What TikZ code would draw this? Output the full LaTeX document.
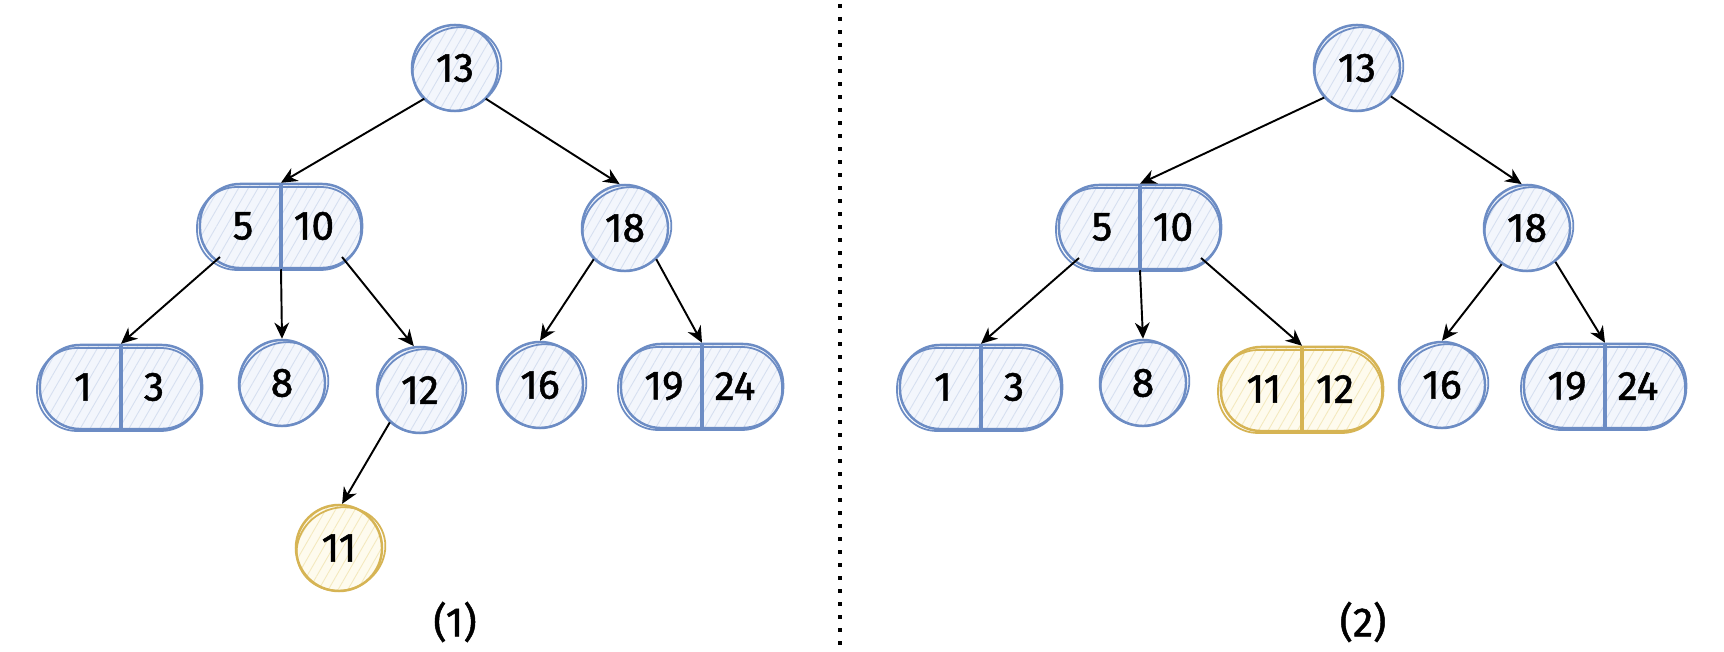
\documentclass[tikz,border=0pt]{standalone}
\usepackage{fontspec}
\setmainfont{Fira Sans}
\newfontfamily\numfont{Fira Sans}[FakeBold=1.2]
\usetikzlibrary{arrows.meta,calc,patterns.meta}
\definecolor{blline}{RGB}{108,140,196}
\definecolor{blfill}{RGB}{243,246,252}
\definecolor{blhatch}{RGB}{214,223,240}
\definecolor{ylline}{RGB}{214,180,84}
\definecolor{ylfill}{RGB}{254,251,238}
\definecolor{ylhatch}{RGB}{244,233,190}
\tikzset{
  hatchfill/.style={preaction={fill=#1fill}, pattern={Lines[angle=60,distance=2.4pt,line width=0.25pt]}, pattern color=#1hatch},
  circ/.style={circle, minimum size=0.86cm, inner sep=0pt, draw=#1line, line width=0.7pt, hatchfill=#1},
  twobox/.style={rectangle, rounded corners=0.40cm, minimum width=1.62cm, minimum height=0.84cm, inner sep=0pt, draw=#1line, line width=0.7pt, hatchfill=#1},
  sk/.style={draw=#1line, line width=0.5pt},
  divline/.style={draw=#1line, line width=0.9pt},
  num/.style={font=\numfont\fontsize{11.6}{14}\selectfont, inner sep=0pt},
  arr/.style={-{Stealth[length=4.6pt,width=4.2pt]}, line width=0.55pt, black},
}
\newcommand\circnode[5]{%
  \node[circ=#5] (#1) at (#2,#3) {};
  \draw[sk=#5, shift={($(#1)+(2,1)$)}, rotate=25] (0,0) ellipse [x radius=0.45cm, y radius=0.41cm];
  \node[num] (#1t) at (#1) {#4};
}
\newcommand\boxnode[6]{%
  \node[twobox=#6] (#1) at (#2,#3) {};
  \draw[sk=#6, rounded corners=0.40cm] ($(#1)+(-84,-39)$) rectangle ($(#1)+(80,44)$);
  \draw[divline=#6] (#1.north) -- (#1.south);
  \node[num] (#1a) at ($(#1)+(-38,0)$) {#4};
  \node[num] (#1b) at ($(#1)+(33,0)$) {#5};
}
\begin{document}
\begin{tikzpicture}[x=0.01cm, y=-0.01cm]
\useasboundingbox[fill=white] (0,0) rectangle (1724,652);
% ---------- tree (1) ----------
\circnode{L13}{455}{68}{13}{bl}
\boxnode{L510}{281}{226}{5}{10}{bl}
\circnode{L18}{625}{228}{18}{bl}
\boxnode{L13b}{121}{387}{1}{3}{bl}
\circnode{L8}{282}{383}{8}{bl}
\circnode{L12}{420}{390}{12}{bl}
\circnode{L11}{339}{548}{11}{yl}
\circnode{L16}{540}{385}{16}{bl}
\boxnode{L1924}{702}{386}{19}{24}{bl}
\draw[arr] (L13.225) -- (L510.north);
\draw[arr] (L13.-45) -- (L18.97);
\draw[arr] ($(L510)+(-61,31)$) -- (L13b.north);
\draw[arr] (L510.south) -- (L8.north);
\draw[arr] ($(L510)+(61,31)$) -- (L12.98);
\draw[arr] (L12.227) -- (L11.86);
\draw[arr] (L18.225) -- (L16.north);
\draw[arr] (L18.-45) -- (L1924.north);
\node[num] (lab1) at (455,622) {(1)};
% ---------- divider ----------
\coordinate (dtop) at (840,4);
\coordinate (dbot) at (840,650);
\draw[line width=0.04cm, dash pattern=on 0.04cm off 0.09cm] (dtop) -- (dbot);
% ---------- tree (2) ----------
\circnode{R13}{1357}{68}{13}{bl}
\boxnode{R510}{1140}{227}{5}{10}{bl}
\circnode{R18}{1527}{228}{18}{bl}
\boxnode{R13b}{981}{387}{1}{3}{bl}
\circnode{R8}{1143}{383}{8}{bl}
\boxnode{R1112}{1302}{389}{11}{12}{yl}
\circnode{R16}{1442}{385}{16}{bl}
\boxnode{R1924}{1605}{386}{19}{24}{bl}
\draw[arr] (R13.222) -- (R510.north);
\draw[arr] (R13.-40) -- (R18.97);
\draw[arr] ($(R510)+(-61,31)$) -- (R13b.north);
\draw[arr] (R510.south) -- (R8.north);
\draw[arr] ($(R510)+(61,31)$) -- (R1112.north);
\draw[arr] (R18.235) -- (R16.north);
\draw[arr] (R18.-50) -- (R1924.north);
\node[num] (lab2) at (1363,622) {(2)};
\end{tikzpicture}
\end{document}
